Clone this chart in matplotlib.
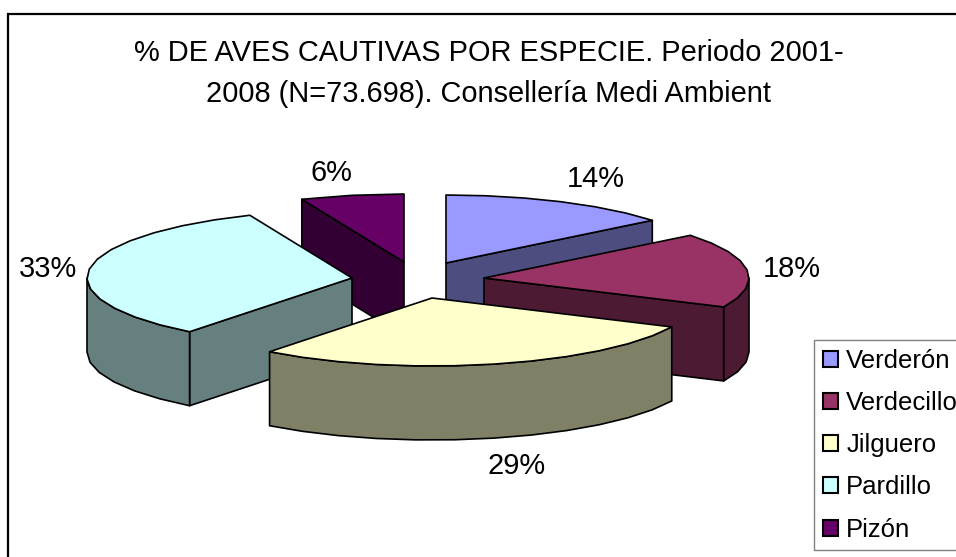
import numpy as np
import matplotlib
matplotlib.use("Agg")
import matplotlib.pyplot as plt
from matplotlib.patches import Polygon, Patch, Rectangle

plt.rcParams['font.family'] = ['Liberation Sans', 'DejaVu Sans']

categories = ["Verderón", "Verdecillo", "Jilguero", "Pardillo", "Pizón"]
values = [14.2, 17.8, 28.5, 33.2, 6.3]
pct_labels = ["14%", "18%", "29%", "33%", "6%"]
top_colors = ["#9999FF", "#993366", "#FFFFCC", "#CCFFFF", "#660066"]
side_colors = ["#4D4D80", "#4D1A33", "#808066", "#668080", "#330033"]
title_lines = ["% DE AVES CAUTIVAS POR ESPECIE. Periodo 2001-",
               "2008 (N=73.698). Consellería Medi Ambient"]
apex_x = [446, 484, 432, 352, 404]
apex_y = [263, 278, 298, 278, 262]
label_x = [596, 792, 517, 47.5, 331]
label_y = [187, 277, 474, 277, 181]

RX, RY, DEPTH = 265, 68, 74
LW = 1.2

fig = plt.figure(figsize=(9.56, 5.57), dpi=100)
ax = fig.add_axes([0, 0, 1, 1])
ax.set_xlim(0, 956)
ax.set_ylim(557, 0)
ax.axis('off')

# chart frame: only its top and left edges fall inside the picture
ax.add_patch(Rectangle((8, 14), 1000, 600, fc='white', ec='black', lw=1.6, zorder=0))


def rim(cx, cy, a0, a1):
    n = max(2, int(abs(a1 - a0) / 8) + 1)
    t = np.radians(np.linspace(a0, a1, n))
    return np.column_stack([cx + RX * np.sin(t), cy - RY * np.cos(t)])


def face(pts, color, z):
    ax.add_patch(Polygon(pts, closed=True, fc=color, ec='black', lw=LW,
                         joinstyle='round', zorder=z))


def extrude(edge, color, z):
    low = edge + np.array([0, DEPTH])
    face(np.vstack([edge, low[::-1]]), color, z)


edges = np.cumsum([0] + values) * 3.6
order = [0, 4, 3, 1, 2]  # back to front
for rank, i in enumerate(order):
    cx, cy = apex_x[i], apex_y[i]
    a0, a1 = edges[i], edges[i + 1]
    apex = np.array([[cx, cy]])
    z = 2 + rank
    # cut faces turned toward the viewer
    if a0 > 180:
        extrude(np.vstack([rim(cx, cy, a0, a0), apex]), side_colors[i], z)
    if a1 < 180:
        extrude(np.vstack([apex, rim(cx, cy, a1, a1)]), side_colors[i], z)
    # visible outer wall: the part of the rim between 90 and 270 degrees
    lo, hi = max(a0, 90), min(a1, 270)
    if hi > lo:
        extrude(rim(cx, cy, lo, hi), side_colors[i], z)
    face(np.vstack([apex, rim(cx, cy, a0, a1)]), top_colors[i], z)

for txt, x, y in zip(pct_labels, label_x, label_y):
    ax.text(x, y, txt, fontsize=20.9, ha='center', va='baseline', color='black', zorder=20)

for line, y in zip(title_lines, [61, 101.5]):
    ax.text(489, y, line, fontsize=20.9, ha='center', va='baseline', color='black', zorder=20)

handles = [Patch(fc=c, ec='black', lw=1.5) for c in top_colors]
leg = ax.legend(handles, categories, loc='upper left', bbox_to_anchor=(814, 340, 200, 209),
                bbox_transform=ax.transData, prop={'size': 18.5}, frameon=True, mode='expand',
                fancybox=False, framealpha=1, edgecolor='#808080', borderaxespad=0,
                borderpad=0.34, labelspacing=0.71, handlelength=0.58, handleheight=0.58,
                handletextpad=0.34)
leg.get_frame().set_linewidth(1)
leg.set_zorder(30)

fig.savefig("out.png", dpi=100)
